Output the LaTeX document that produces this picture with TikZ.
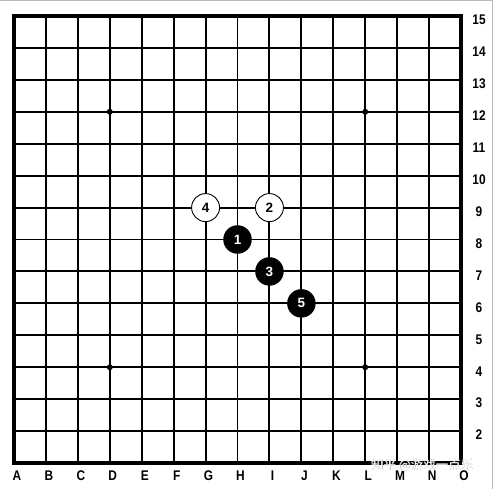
\documentclass[tikz,border=0pt]{standalone}
\usepackage{fontspec}
\setmainfont{Liberation Sans}
\newfontfamily\cjkfont{Noto Sans CJK SC}
\begin{document}
\begin{tikzpicture}[x=1pt,y=1pt,
  gridline/.style={line width=1.9pt,black},
  borderline/.style={line width=3.6pt,black,line cap=rect},
  frameline/.style={line width=1.2pt,gray!55},
  lbl/.style={font=\fontsize{14}{14}\selectfont\bfseries,inner sep=0pt,xscale=0.85},
  blackstone/.style={circle,fill=black,minimum size=28.5pt,inner sep=0pt,text=white,font=\fontsize{13.5}{13.5}\selectfont\bfseries},
  whitestone/.style={circle,draw=black,line width=0.9pt,fill=white,minimum size=28pt,inner sep=0pt,text=black,font=\fontsize{13.5}{13.5}\selectfont\bfseries},
  star/.style={circle,fill=black,minimum size=6pt,inner sep=0pt},
  wmark/.style={font=\cjkfont\fontsize{12.5}{12.5}\selectfont,inner sep=0pt}]
\useasboundingbox (0,0) rectangle (495,489);
\fill[white] (0,0) rectangle (495,489);
% window frame edges
\draw[frameline] (0,488.6) -- (492.5,488.6);
\draw[frameline] (492.5,489) -- (492.5,0);
\def\sp{31.93}
% coordinates for grid
\foreach \i in {0,...,14}{
  \coordinate (t\i) at ({14+\sp*\i},{489-16});
  \coordinate (b\i) at ({14+\sp*\i},{489-463});
  \coordinate (l\i) at (14,{489-16-\sp*\i});
  \coordinate (r\i) at (462,{489-16-\sp*\i});
}
\foreach \i in {1,...,13}{
  \draw[gridline] (t\i) -- (b\i);
  \draw[gridline] (l\i) -- (r\i);
}
\draw[borderline] (t0) -- (t14) -- (b14) -- (b0) -- cycle;
% star points
\foreach \c/\r/\n in {3/12/s1,11/12/s2,3/4/s3,11/4/s4}{
  \node[star] (\n) at ({14+\sp*\c},{489-16-\sp*(15-\r)}) {};
}
% row labels
\foreach \r in {2,...,15}{
  \node[lbl] (row\r) at (479,{489-20-\sp*(15-\r)}) {\r};
}
% column labels
\foreach \L [count=\k from 0] in {A,B,C,D,E,F,G,H,I,J,K,L,M,N,O}{
  \node[lbl] (col\L) at ({17+\sp*\k},{489-476}) {\L};
}
% stones
\node[blackstone] (m1) at ({14+\sp*7},{489-16-\sp*7}) {1};
\node[whitestone] (m2) at ({14+\sp*8},{489-16-\sp*6}) {2};
\node[blackstone] (m3) at ({14+\sp*8},{489-16-\sp*8}) {3};
\node[whitestone] (m4) at ({14+\sp*6},{489-16-\sp*6}) {4};
\node[blackstone] (m5) at ({14+\sp*9},{489-16-\sp*9}) {5};
% watermark
\node[wmark,text=gray!55] (wm0) at (422.6,{489-465.4}) {知乎 @游戏一点乐};
\node[wmark,text=white] (wm) at (422,{489-465}) {知乎 @游戏一点乐};
\end{tikzpicture}
\end{document}
